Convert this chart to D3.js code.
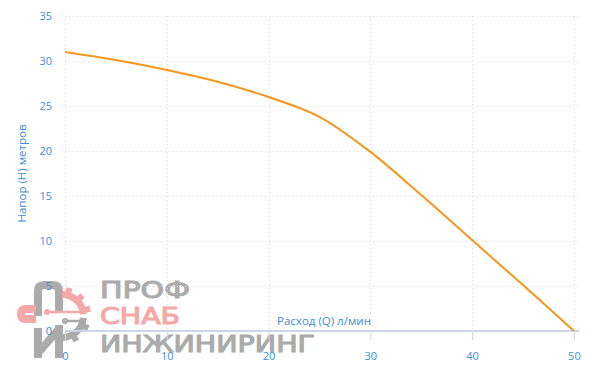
<!DOCTYPE html>
<html><head><meta charset="utf-8">
<script src="https://cdn.jsdelivr.net/npm/d3@7"></script>
<style>body{margin:0;background:#fff}svg{display:block}</style>
</head><body>
<svg id="c" width="600" height="373"></svg>
<script>
const flowQ = [0, 5, 10, 15, 20, 25, 30, 35, 40, 45, 50];
const headH = [31, 30.1, 29, 27.7, 26, 23.8, 19.9, 15.1, 10.1, 5.1, 0];
const xTicks = [0, 10, 20, 30, 40, 50];
const yTicks = [0, 5, 10, 15, 20, 25, 30, 35];
const xTitle = "Расход (Q) л/мин";
const yTitle = "Напор (H) метров";
const logoWords = ["ПРОФ", "СНАБ", "ИНЖИНИРИНГ"];

const svg = d3.select("#c");
const L = 65, R = 579, T = 16, B = 331;
const x = d3.scaleLinear().domain([0, 50.5]).range([L, R]);
const y = d3.scaleLinear().domain([0, 35]).range([B, T]);
const blue = "#3b8fd3";
const font = "'Open Sans', sans-serif";

// logo watermark
const gray = "#ababab", pink = "#f5a8a8";
const lg = svg.append("g");
// П
lg.append("path").attr("d","M38,316 L38,291 Q38,285 44,285 L53,285 Q59,285 59,291 L59,313")
  .attr("fill","none").attr("stroke",gray).attr("stroke-width",8);
// С
lg.append("path").attr("d","M36,309 L26,309 Q21,309 21,314 L21,314 Q21,319 26,319 L36,319")
  .attr("fill","none").attr("stroke",pink).attr("stroke-width",8);
// И
lg.append("path").attr("d","M38,328 L38,358 M39,352 L58,330 M59,325 L59,358")
  .attr("fill","none").attr("stroke",gray).attr("stroke-width",8);
// gear
const gc = [62, 316], rO = 25, rI = 18;
function band(a0, a1) {
  return d3.arc().innerRadius(rI).outerRadius(rO).startAngle(a0).endAngle(a1)();
}
const deg = Math.PI/180;
lg.append("path").attr("transform",`translate(${gc[0]},${gc[1]})`).attr("d",band(0, 85*deg)).attr("fill",pink);
lg.append("path").attr("transform",`translate(${gc[0]},${gc[1]})`).attr("d",band(95*deg, 190*deg)).attr("fill",gray);
[[15,pink],[45,pink],[75,pink],[115,gray],[150,gray]].forEach(([a,c])=>{
  lg.append("rect").attr("x",-3).attr("y",-rO-4).attr("width",6).attr("height",6)
    .attr("transform",`translate(${gc[0]},${gc[1]}) rotate(${a})`).attr("fill",c);
});
lg.append("line").attr("x1",47).attr("y1",312).attr("x2",82).attr("y2",312).attr("stroke",pink).attr("stroke-width",2.5);
lg.append("circle").attr("cx",47).attr("cy",312).attr("r",3).attr("fill",pink);
lg.append("line").attr("x1",65).attr("y1",321).attr("x2",82).attr("y2",321).attr("stroke",gray).attr("stroke-width",2.5);
lg.append("circle").attr("cx",65).attr("cy",321).attr("r",3).attr("fill",gray);
const lw = [[100,298,90,gray],[100,324,80,pink],[100,352,215,gray]];
logoWords.forEach((w,i)=>{
  lg.append("text").attr("x",lw[i][0]).attr("y",lw[i][1]).text(w)
    .attr("font-family","'DejaVu Sans', sans-serif")
    .attr("font-size",23).attr("fill",lw[i][3]).attr("stroke",lw[i][3]).attr("stroke-width",1.1)
    .attr("textLength",lw[i][2]).attr("lengthAdjust","spacingAndGlyphs");
});

// grid
svg.append("g").selectAll("line").data(yTicks.filter(d=>d>0)).join("line")
  .attr("x1",L).attr("x2",R).attr("y1",d=>y(d)+0.5).attr("y2",d=>y(d)+0.5)
  .attr("stroke","#dddddd").attr("stroke-dasharray","1,3");
svg.append("g").selectAll("line").data(xTicks).join("line")
  .attr("x1",d=>Math.round(x(d))+0.5).attr("x2",d=>Math.round(x(d))+0.5).attr("y1",T).attr("y2",B)
  .attr("stroke","#dddddd").attr("stroke-dasharray","1,3");

// x axis
const xa = svg.append("g").attr("transform",`translate(0,${B})`)
  .call(d3.axisBottom(x).tickValues(xTicks).tickSize(9).tickPadding(12).tickFormat(d3.format("d")));
xa.select(".domain").attr("stroke","#ccd6eb").attr("stroke-width",2).attr("d",`M${L},0H${R}`);
xa.selectAll(".tick line").attr("stroke","#ccd6eb");
xa.selectAll("text").attr("fill",blue).attr("font-size",11).attr("font-family",font);

// y axis
const ya = svg.append("g").attr("transform",`translate(${L},0)`)
  .call(d3.axisLeft(y).tickValues(yTicks).tickSize(0).tickPadding(13).tickFormat(d3.format("d")));
ya.select(".domain").remove();
ya.selectAll("text").attr("fill",blue).attr("font-size",11).attr("font-family",font);

// titles
svg.append("text").attr("x",324).attr("y",325).attr("text-anchor","middle")
  .attr("fill",blue).attr("font-size",11.5).attr("font-family",font).text(xTitle);
svg.append("text").attr("transform",`translate(26,${(T+B)/2}) rotate(-90)`).attr("text-anchor","middle")
  .attr("fill",blue).attr("font-size",11.5).attr("font-family",font).text(yTitle);

// line
svg.append("path").datum(flowQ.map((q,i)=>[q,headH[i]]))
  .attr("d",d3.line().x(d=>x(d[0])).y(d=>y(d[1])).curve(d3.curveCatmullRom.alpha(0.5)))
  .attr("fill","none").attr("stroke","#f7961c").attr("stroke-width",2);
</script>
</body></html>
